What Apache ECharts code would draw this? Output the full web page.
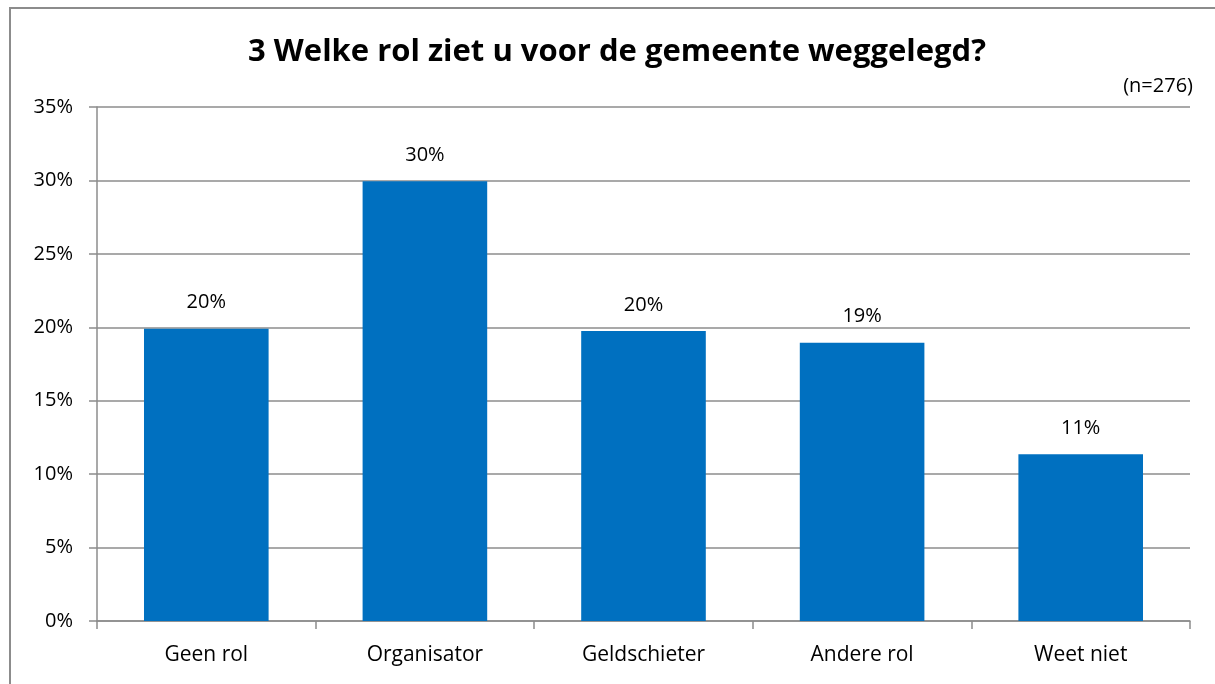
<!DOCTYPE html>
<html>
<head>
<meta charset="utf-8">
<script src="https://cdn.jsdelivr.net/npm/echarts@6/dist/echarts.min.js"></script>
<style>
  html, body { margin: 0; padding: 0; background: #fff; }
  #frame {
    position: absolute; left: 9px; top: 7px; width: 1220px; height: 690px;
    border: 2px solid #8c8c8c; box-sizing: border-box;
  }
  #chart { position: absolute; left: 0; top: 0; width: 1215px; height: 684px; }
</style>
</head>
<body>
<div id="frame"></div>
<div id="chart"></div>
<script>
// antwoordcategorieën en percentages
const categories = ['Geen rol', 'Organisator', 'Geldschieter', 'Andere rol', 'Weet niet'];
const values = [19.9, 29.95, 19.75, 18.95, 11.35];
const titleText = '3 Welke rol ziet u voor de gemeente weggelegd?';
const noteText = '(n=276)';

const chart = echarts.init(document.getElementById('chart'));
const font = '"Open Sans", "Liberation Sans", sans-serif';

const option = {
  animation: false,
  title: [
    {
      text: titleText,
      left: 612, top: 32, textAlign: 'center',
      textStyle: { fontFamily: font, fontSize: 31, fontWeight: 'bold', color: '#000' }
    },
    {
      text: noteText,
      right: 17, top: 71,
      textStyle: { fontFamily: font, fontSize: 20, fontWeight: 'normal', color: '#000' }
    }
  ],
  grid: { left: 97, right: 25, top: 107, bottom: 63 },
  xAxis: {
    type: 'category',
    data: categories,
    axisLine: { lineStyle: { color: '#8c8c8c', width: 1.5 } },
    axisTick: { show: true, length: 8, lineStyle: { color: '#8c8c8c', width: 1.5 } },
    axisLabel: { fontFamily: font, fontSize: 21, color: '#000', margin: 24 }
  },
  yAxis: {
    type: 'value',
    min: 0, max: 35, interval: 5,
    axisLine: { show: true, lineStyle: { color: '#8c8c8c', width: 1.5 } },
    axisTick: { show: true, length: 8, lineStyle: { color: '#8c8c8c', width: 1.5 } },
    axisLabel: { fontFamily: font, fontSize: 20, color: '#000', margin: 24, formatter: '{value}%' },
    splitLine: { lineStyle: { color: '#8c8c8c', width: 1.5 } }
  },
  series: [{
    type: 'bar',
    data: values,
    barWidth: '57%',
    itemStyle: { color: '#0070c0' },
    label: {
      show: true, position: 'top', distance: 16,
      fontFamily: font, fontSize: 20, color: '#000',
      formatter: p => Math.round(p.value) + '%'
    }
  }]
};

chart.setOption(option);
</script>
</body>
</html>
